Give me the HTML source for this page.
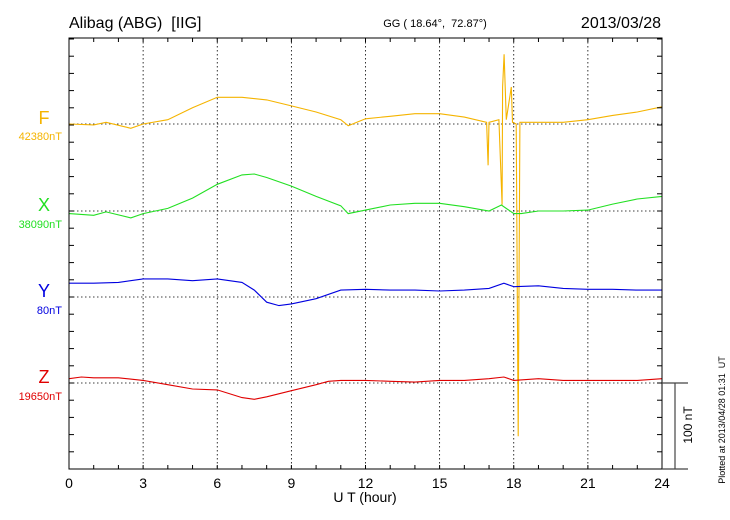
<!DOCTYPE html>
<html><head><meta charset="utf-8"><style>
body{margin:0;background:#fff}
svg{display:block;font-family:"Liberation Sans",sans-serif}
text{white-space:pre}
</style></head><body>
<svg id="chart" width="730" height="520" viewBox="0 0 730 520" xmlns="http://www.w3.org/2000/svg" xml:space="preserve">
<text x="69" y="28" font-size="16">Alibag (ABG)  [IIG]</text>
<text x="435" y="27" font-size="11" text-anchor="middle">GG ( 18.64°,  72.87°)</text>
<text x="661" y="28" font-size="16" text-anchor="end">2013/03/28</text>
<g id="grid"></g>
<g id="series"></g>
<rect x="69" y="38" width="593" height="431" fill="none" stroke="#000" stroke-width="1"/>
<g id="axes"></g>
<text x="365" y="502" font-size="14" text-anchor="middle">U T (hour)</text>
<g stroke="#444" stroke-width="1.2" fill="none">
<line x1="662" y1="383" x2="688" y2="383"/><line x1="675" y1="383" x2="675" y2="469"/><line x1="662" y1="469" x2="688" y2="469"/>
</g>
<text x="0" y="0" font-size="12" text-anchor="middle" transform="translate(692,425) rotate(-90)">100 nT</text>
<text x="0" y="0" font-size="9" text-anchor="middle" transform="translate(725,420) rotate(-90)">Plotted at 2013/04/28 01:31  UT</text>
<text x="44" y="124" font-size="18" fill="#f5b400" text-anchor="middle">F</text>
<text x="62" y="140" font-size="11" fill="#f5b400" text-anchor="end">42380nT</text>
<text x="44" y="211" font-size="18" fill="#22e022" text-anchor="middle">X</text>
<text x="62" y="228" font-size="11" fill="#22e022" text-anchor="end">38090nT</text>
<text x="44" y="297" font-size="18" fill="#0000e0" text-anchor="middle">Y</text>
<text x="62" y="314" font-size="11" fill="#0000e0" text-anchor="end">80nT</text>
<text x="44" y="383" font-size="18" fill="#e00000" text-anchor="middle">Z</text>
<text x="62" y="400" font-size="11" fill="#e00000" text-anchor="end">19650nT</text>
</svg>
<script>
const xTicks=[0,3,6,9,12,15,18,21,24];
const fTimes=[0,1,1.5,2.5,3,4,5,6,7,8,9,10,11,11.3,12,13,14,15,16,16.9,16.96,17.0,17.4,17.53,17.55,17.61,17.7,17.9,17.95,18.1,18.18,18.25,19,20,21,22,23,24];
const fValues=[0,-1,2,-5,0,5,19,31,31,28,21,14,5,-2,6,9,12,12,8,2,-48,2,5,-94,43,81,5,43,2,0,-363,2,2,2,5,10,14,20];
const xTimes=[0,1,1.5,2.5,3,4,5,6,7,7.5,8,9,10,11,11.3,12,13,14,15,16,17,17.5,18,18.3,19,20,21,22,23,24];
const xValues=[-3,-5,-1,-8,-3,3,15,31,42,43,39,29,17,6,-3,1,7,9,9,5,0,7,-3,-3,0,0,1,8,14,17];
const yTimes=[0,1,2,3,4,5,6,7,7.5,8,8.5,9,10,11,12,13,14,15,16,17,17.6,18,19,20,21,22,23,24];
const yValues=[16,16,17,21,21,19,21,17,8,-6,-10,-8,-2,8,9,8,8,7,8,10,16,12,13,10,9,9,8,8];
const zTimes=[0,0.5,1,2,3,4,5,6,7,7.5,8,9,10,10.5,11,12,13,14,15,16,17,17.6,18,19,20,21,22,23,24];
const zValues=[5,7,6,6,3,-2,-7,-8,-17,-19,-16,-9,-2,2,3,3,2,1,3,3,5,7,3,5,3,3,3,3,5];

const NS='http://www.w3.org/2000/svg';
const X0=69,X1=662,Y0=38,Y1=469,PXNT=0.86;
const xs=h=>X0+h*(X1-X0)/24;
const ys=(base,v)=>base-v*PXNT;
function mk(tag,attrs,parent){const e=document.createElementNS(NS,tag);for(const k in attrs)e.setAttribute(k,attrs[k]);parent.appendChild(e);return e;}
const grid=document.getElementById('grid'),axes=document.getElementById('axes'),ser=document.getElementById('series');
xTicks.forEach(h=>{
  if(h>0&&h<24){const l=mk('line',{x1:xs(h),x2:xs(h),y1:Y0,y2:Y1,stroke:'#000','stroke-width':0.8,'stroke-dasharray':'1.5,2.5'},grid);
  
  }
  const t=mk('text',{x:xs(h),y:488,'font-size':14,'text-anchor':'middle'},axes);t.textContent=h;
  
  
});
for(let h=1;h<24;h++){
  const a=mk('line',{x1:xs(h),x2:xs(h),y1:Y1,y2:Y1-4,stroke:'#000'},axes);
  
  
  const b=mk('line',{x1:xs(h),x2:xs(h),y1:Y0,y2:Y0+4,stroke:'#000'},axes);
  
  
}
for(let y=383;y>Y0;y-=17.2){
  const a=mk('line',{x1:X0,x2:X0+5,y1:y,y2:y,stroke:'#000'},axes);
  
  
  const b=mk('line',{x1:X1,x2:X1-5,y1:y,y2:y,stroke:'#000'},axes);
  
  
}
for(let y=383+17.2;y<Y1;y+=17.2){
  const a=mk('line',{x1:X0,x2:X0+5,y1:y,y2:y,stroke:'#000'},axes);
  
  
  const b=mk('line',{x1:X1,x2:X1-5,y1:y,y2:y,stroke:'#000'},axes);
  
  
}
const S=[['f',fTimes,fValues,124,'#f5b400'],['x',xTimes,xValues,211,'#22e022'],['y',yTimes,yValues,297,'#0000e0'],['z',zTimes,zValues,383,'#e00000']];
S.forEach(([n,t,v,base,c])=>{
  const g=mk('line',{x1:X0,x2:X1,y1:base,y2:base,stroke:'#000','stroke-width':0.8,'stroke-dasharray':'1.5,2.5'},grid);
  
  
  const pts=t.map((h,i)=>xs(h).toFixed(1)+','+ys(base,v[i]).toFixed(1)).join(' ');
  const p=mk('polyline',{points:pts,fill:'none',stroke:c,'stroke-width':1.1},ser);
  
  
});
</script>
</body></html>
